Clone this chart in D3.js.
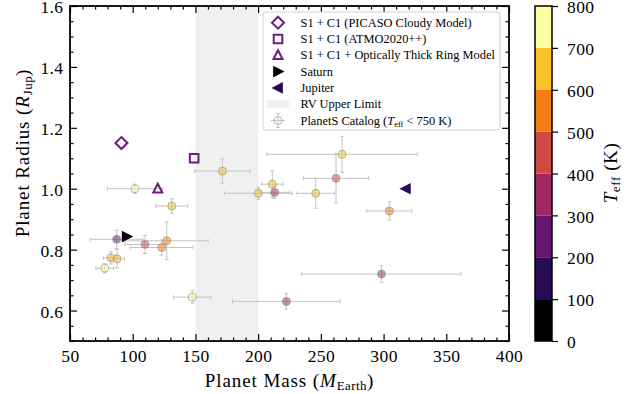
<!DOCTYPE html>
<html>
<head>
<meta charset="utf-8">
<script src="https://cdn.jsdelivr.net/npm/d3@7"></script>
<style>
  body { margin: 0; background: #fff; }
  svg { display: block; font-family: "Liberation Serif", "DejaVu Serif", serif; }
</style>
</head>
<body>
<svg id="chart" width="636" height="394"></svg>
<script>
// PlanetS catalog planets: mass (M_Earth), radius (R_Jup), symmetric errors, Teff (K)
const catMass   = [101.8, 131.1, 87.2, 109.8, 123.1, 127.1, 82.7, 87.5, 77.7, 147.5, 171.5, 266.9, 262.1, 245.9, 211.3, 213.2, 200.2, 304.6, 298.3, 222.5];
const catRadius = [1.000, 0.943, 0.834, 0.817, 0.807, 0.829, 0.773, 0.770, 0.739, 0.644, 1.058, 1.113, 1.034, 0.985, 1.015, 0.988, 0.985, 0.927, 0.720, 0.630];
const catMassErr   = [22, 12.7, 21, 16, 25, 33, 6, 6, 7, 15, 22, 60, 26, 15, 8.5, 12, 27, 18, 63.5, 43];
const catRadiusErr = [0.015, 0.024, 0.03, 0.03, 0.025, 0.062, 0.02, 0.03, 0.015, 0.02, 0.04, 0.059, 0.081, 0.049, 0.044, 0.02, 0.02, 0.03, 0.027, 0.025];
const catTeff   = [720, 650, 250, 450, 550, 550, 650, 650, 720, 720, 650, 650, 450, 650, 650, 350, 650, 550, 350, 350];

// Model solutions for S1 + C1
const modelNames  = ["S1 + C1 (PICASO Cloudy Model)", "S1 + C1 (ATMO2020++)", "S1 + C1 + Optically Thick Ring Model"];
const modelMass   = [91, 149, 120];
const modelRadius = [1.15, 1.10, 1.00];
const modelSymbols = ["diamond", "square", "triangle"];

// Solar-system giants
const solarNames  = ["Saturn", "Jupiter"];
const solarMass   = [95.2, 317.8];
const solarRadius = [0.843, 1.0];
const solarTeff   = [95, 125];

// RV upper-limit band in mass
const rvBand = [150, 200];

// Axis ticks
const xMajor = [50, 100, 150, 200, 250, 300, 350, 400];
const yMajor = [0.6, 0.8, 1.0, 1.2, 1.4, 1.6];
const cbTicks = [0, 100, 200, 300, 400, 500, 600, 700, 800];

const svg = d3.select("#chart");
const L = 70, R = 509, T = 6, B = 341;
const x = d3.scaleLinear().domain([50, 400]).range([L, R]);
const y = d3.scaleLinear().domain([0.5, 1.6]).range([B, T]);

// discrete inferno colour map, 8 bins of 100 K
const binColors = d3.range(8).map(i => d3.interpolateInferno(i / 7));
const color = d3.scaleQuantize().domain([0, 800]).range(binColors);
const purple = "#6c1d7d";
const errGrey = "#c4c4c4";

const plot = svg.append("g");

// RV upper limit band
plot.append("rect")
  .attr("x", x(rvBand[0])).attr("y", T)
  .attr("width", x(rvBand[1]) - x(rvBand[0])).attr("height", B - T)
  .attr("fill", "#f0f0f0");

// catalog error bars
const cat = catMass.map((m, i) => ({ m, r: catRadius[i], dm: catMassErr[i], dr: catRadiusErr[i], t: catTeff[i] }));
const eb = plot.append("g").attr("stroke", errGrey).attr("stroke-width", 1).attr("fill", "none");
cat.forEach(d => {
  eb.append("line").attr("x1", x(d.m - d.dm)).attr("x2", x(d.m + d.dm)).attr("y1", y(d.r)).attr("y2", y(d.r));
  eb.append("line").attr("x1", x(d.m)).attr("x2", x(d.m)).attr("y1", y(d.r - d.dr)).attr("y2", y(d.r + d.dr));
  [d.m - d.dm, d.m + d.dm].forEach(v => eb.append("line").attr("x1", x(v)).attr("x2", x(v)).attr("y1", y(d.r) - 2).attr("y2", y(d.r) + 2));
  [d.r - d.dr, d.r + d.dr].forEach(v => eb.append("line").attr("x1", x(d.m) - 2).attr("x2", x(d.m) + 2).attr("y1", y(v)).attr("y2", y(v)));
});

// catalog points, coloured by Teff bin
plot.append("g").selectAll("circle").data(cat).join("circle")
  .attr("cx", d => x(d.m)).attr("cy", d => y(d.r)).attr("r", 4)
  .attr("fill", d => color(d.t)).attr("fill-opacity", 0.5)
  .attr("stroke", "#8a8a8a").attr("stroke-width", 0.6);

// marker path helpers
function markerPath(kind, s) {
  switch (kind) {
    case "diamond": return `M0,${-s}L${s},0L0,${s}L${-s},0Z`;
    case "square": return `M${-s},${-s}H${s}V${s}H${-s}Z`;
    case "triangle": return `M0,${-s}L${s * 0.9},${s * 0.75}L${-s * 0.9},${s * 0.75}Z`;
    case "right": return `M${-s * 0.75},${-s * 0.9}L${s},0L${-s * 0.75},${s * 0.9}Z`;
    case "left": return `M${s * 0.75},${-s * 0.9}L${-s},0L${s * 0.75},${s * 0.9}Z`;
  }
}
const modelSize = [6, 4.3, 5];

// model solutions (open purple markers)
plot.append("g").selectAll("path").data(modelMass).join("path")
  .attr("transform", (d, i) => `translate(${x(d)},${y(modelRadius[i])})`)
  .attr("d", (d, i) => markerPath(modelSymbols[i], modelSize[i]))
  .attr("fill", "none").attr("stroke", purple).attr("stroke-width", 2);

// Saturn and Jupiter
const solarSym = ["right", "left"];
plot.append("g").selectAll("path").data(solarMass).join("path")
  .attr("transform", (d, i) => `translate(${x(d)},${y(solarRadius[i])})`)
  .attr("d", (d, i) => markerPath(solarSym[i], 6.5))
  .attr("fill", (d, i) => color(solarTeff[i]));

// axes: ticks point inward on all four sides
const tickFont = 17.5;
function styleAxis(g) {
  g.select(".domain").remove();
  g.selectAll(".tick line").attr("stroke", "#000").attr("stroke-width", 1.2);
  g.selectAll("text").attr("font-size", tickFont).attr("fill", "#000")
    .attr("font-family", "Liberation Serif, serif").attr("letter-spacing", 0.4);
}
const xMinor = d3.range(50, 401, 10).filter(v => v % 50 !== 0);
const yMinor = d3.range(0, 23).map(i => +(0.5 + i * 0.05).toFixed(2)).filter(v => Math.round(v * 100) % 20 !== 0);

svg.append("g").attr("transform", `translate(0,${B})`)
  .call(d3.axisBottom(x).tickValues(xMajor).tickSize(-7).tickPadding(8.5).tickFormat(d3.format("d"))).call(styleAxis);
svg.append("g").attr("transform", `translate(0,${B})`)
  .call(d3.axisBottom(x).tickValues(xMinor).tickSize(-3.5).tickFormat("")).call(styleAxis);
svg.append("g").attr("transform", `translate(0,${T})`)
  .call(d3.axisTop(x).tickValues(xMajor).tickSize(-7).tickFormat("")).call(styleAxis);
svg.append("g").attr("transform", `translate(0,${T})`)
  .call(d3.axisTop(x).tickValues(xMinor).tickSize(-3.5).tickFormat("")).call(styleAxis);
svg.append("g").attr("transform", `translate(${L},0)`)
  .call(d3.axisLeft(y).tickValues(yMajor).tickSize(-7).tickPadding(6.5).tickFormat(d3.format(".1f")))
  .call(styleAxis)
  .call(g => g.selectAll("text").attr("dy", "0.38em"));
svg.append("g").attr("transform", `translate(${L},0)`)
  .call(d3.axisLeft(y).tickValues(yMinor).tickSize(-3.5).tickFormat("")).call(styleAxis);
svg.append("g").attr("transform", `translate(${R},0)`)
  .call(d3.axisRight(y).tickValues(yMajor).tickSize(-7).tickFormat("")).call(styleAxis);
svg.append("g").attr("transform", `translate(${R},0)`)
  .call(d3.axisRight(y).tickValues(yMinor).tickSize(-3.5).tickFormat("")).call(styleAxis);

// frame
svg.append("rect").attr("x", L).attr("y", T).attr("width", R - L).attr("height", B - T)
  .attr("fill", "none").attr("stroke", "#000").attr("stroke-width", 1.8);

// axis labels
const labelFont = 19;
const xl = svg.append("text").attr("x", (L + R) / 2).attr("y", 387)
  .attr("text-anchor", "middle").attr("font-size", labelFont).attr("letter-spacing", 0.9);
xl.append("tspan").text("Planet Mass (");
xl.append("tspan").attr("font-style", "italic").text("M");
xl.append("tspan").attr("font-size", 13).attr("dy", 3).attr("letter-spacing", 0.4).text("Earth");
xl.append("tspan").attr("dy", -3).text(")");

const yl = svg.append("text").attr("transform", "translate(29,153) rotate(-90)")
  .attr("text-anchor", "middle").attr("font-size", labelFont).attr("letter-spacing", 0.9);
yl.append("tspan").text("Planet Radius (");
yl.append("tspan").attr("font-style", "italic").text("R");
yl.append("tspan").attr("font-size", 13).attr("dy", 3).attr("letter-spacing", 0.4).text("Jup");
yl.append("tspan").attr("dy", -3).text(")");

// colour bar
const cbL = 535, cbR = 552;
const cy = d3.scaleLinear().domain([0, 800]).range([B, T]);
const cb = svg.append("g");
cb.selectAll("rect").data(binColors).join("rect")
  .attr("x", cbL).attr("width", cbR - cbL)
  .attr("y", (d, i) => cy((i + 1) * 100)).attr("height", (d, i) => cy(i * 100) - cy((i + 1) * 100))
  .attr("fill", d => d);
cb.append("rect").attr("x", cbL).attr("y", T).attr("width", cbR - cbL).attr("height", B - T)
  .attr("fill", "none").attr("stroke", "#000").attr("stroke-width", 1.5);
svg.append("g").attr("transform", `translate(${cbR},0)`)
  .call(d3.axisRight(cy).tickValues(cbTicks).tickSize(6).tickPadding(9).tickFormat(d3.format("d")))
  .call(styleAxis)
  .call(g => g.selectAll("text").attr("dy", "0.38em"));

const cl = svg.append("text").attr("transform", "translate(617,173) rotate(-90)")
  .attr("text-anchor", "middle").attr("font-size", labelFont).attr("letter-spacing", 0.6);
cl.append("tspan").attr("font-style", "italic").text("T");
cl.append("tspan").attr("font-size", 13).attr("dy", 3).text("eff");
cl.append("tspan").attr("dy", -3).text(" (K)");

// legend
const lg = svg.append("g").attr("transform", "translate(263,12)");
lg.append("rect").attr("width", 237).attr("height", 118).attr("rx", 3)
  .attr("fill", "#fff").attr("fill-opacity", 0.85).attr("stroke", "#d0d0d0").attr("stroke-width", 1);
const rowY = i => 10.7 + i * 16.3;
const mx = 15, tx = 37.5, lfs = 12.4;
modelNames.forEach((n, i) => {
  lg.append("path").attr("transform", `translate(${mx},${rowY(i)})`)
    .attr("d", markerPath(modelSymbols[i], modelSize[i]))
    .attr("fill", "none").attr("stroke", purple).attr("stroke-width", 2);
  lg.append("text").attr("x", tx).attr("y", rowY(i) + 4).attr("font-size", lfs).text(n);
});
solarNames.forEach((n, i) => {
  lg.append("path").attr("transform", `translate(${mx},${rowY(3 + i)})`)
    .attr("d", markerPath(solarSym[i], 6.5)).attr("fill", color(solarTeff[i]));
  lg.append("text").attr("x", tx).attr("y", rowY(3 + i) + 4).attr("font-size", lfs).text(n);
});
lg.append("rect").attr("x", 4).attr("y", rowY(5) - 4).attr("width", 22).attr("height", 8).attr("fill", "#f0f0f0");
lg.append("text").attr("x", tx).attr("y", rowY(5) + 4).attr("font-size", lfs).text("RV Upper Limit");
const ly = rowY(6);
const lgE = lg.append("g").attr("stroke", errGrey).attr("stroke-width", 1);
lgE.append("line").attr("x1", mx - 7).attr("x2", mx + 7).attr("y1", ly).attr("y2", ly);
lgE.append("line").attr("x1", mx).attr("x2", mx).attr("y1", ly - 7).attr("y2", ly + 7);
lgE.append("line").attr("x1", mx - 2).attr("x2", mx + 2).attr("y1", ly - 7).attr("y2", ly - 7);
lgE.append("line").attr("x1", mx - 2).attr("x2", mx + 2).attr("y1", ly + 7).attr("y2", ly + 7);
lg.append("circle").attr("cx", mx).attr("cy", ly).attr("r", 4)
  .attr("fill", "none").attr("stroke", "#9a9a9a").attr("stroke-width", 0.7);
const lt = lg.append("text").attr("x", tx).attr("y", ly + 4).attr("font-size", lfs);
lt.append("tspan").text("PlanetS Catalog (");
lt.append("tspan").attr("font-style", "italic").text("T");
lt.append("tspan").attr("font-size", 8.5).attr("dy", 2.5).text("eff");
lt.append("tspan").attr("dy", -2.5).text(" < 750 K)");
</script>
</body>
</html>
